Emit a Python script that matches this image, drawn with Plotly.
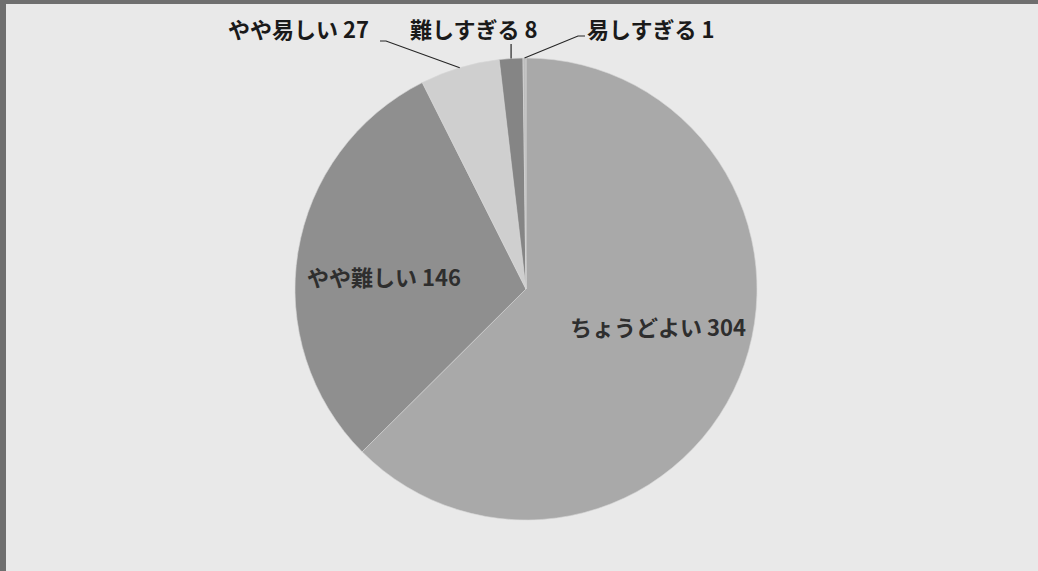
import math
import plotly.graph_objects as go

# Survey answers on difficulty, in clockwise order from 12 o'clock
categories = ["ちょうどよい", "やや難しい", "やや易しい", "難しすぎる", "易しすぎる"]
counts = [304, 146, 27, 8, 1]
slice_colors = ["#a9a9a9", "#8f8f8f", "#cfcfcf", "#858585", "#bdbdbd"]

W, H = 1038, 571
CX, CY, R = 526, 289, 231          # pie centre and radius in pixels


def px(x):
    return x / W


def py(y):
    return 1 - y / H


fig = go.Figure(
    go.Pie(
        labels=categories,
        values=counts,
        sort=False,
        direction="clockwise",
        rotation=0,
        marker=dict(colors=slice_colors, line=dict(color="#d6d6d6", width=0.6)),
        textinfo="none",
        hoverinfo="label+value",
        showlegend=False,
        domain=dict(x=[px(CX - R), px(CX + R)], y=[py(CY + R), py(CY - R)]),
    )
)

# Rim point at the middle of each slice, derived from the counts
total = sum(counts)
mid_pts = []
acc = 0
for v in counts:
    a = (acc + v / 2) / total * 2 * math.pi
    mid_pts.append((CX + R * math.sin(a), CY - R * math.cos(a)))
    acc += v

label_font = dict(family="Noto Sans CJK JP, Noto Sans, sans-serif", size=22, color="#1a1a1a")
inner_font = dict(family="Noto Sans CJK JP, Noto Sans, sans-serif", size=22, color="#2e2e2e")


def label(i):
    return f"<b>{categories[i]} {counts[i]}</b>"


annotations = [
    # labels drawn inside the two large slices
    dict(x=px(658), y=py(326), text=label(0), font=inner_font, xanchor="center", yanchor="middle"),
    dict(x=px(384), y=py(276), text=label(1), font=inner_font, xanchor="center", yanchor="middle"),
    # labels above the pie for the small slices
    dict(x=px(226), y=py(28), text=label(2), font=label_font, xanchor="left", yanchor="middle"),
    dict(x=px(408), y=py(28), text=label(3), font=label_font, xanchor="left", yanchor="middle"),
    dict(x=px(585), y=py(28), text=label(4), font=label_font, xanchor="left", yanchor="middle"),
]
for a in annotations:
    a.update(xref="paper", yref="paper", showarrow=False)


def leader(points):
    d = "M " + " L ".join(f"{px(x):.5f} {py(y):.5f}" for x, y in points)
    return dict(type="path", xref="paper", yref="paper", path=d,
                line=dict(color="#262626", width=1.2))


shapes = [
    leader([(380, 41), (386, 41), mid_pts[2]]),
    leader([(mid_pts[3][0], 44), mid_pts[3]]),
    leader([mid_pts[4], (578, 36), (585, 36)]),
    # dark frame edges along the top and left
    dict(type="rect", xref="paper", yref="paper", x0=0, x1=px(6), y0=0, y1=1,
         line=dict(width=0), fillcolor="#6f6f6f", layer="above"),
    dict(type="rect", xref="paper", yref="paper", x0=0, x1=1, y0=py(4), y1=1,
         line=dict(width=0), fillcolor="#6f6f6f", layer="above"),
]

fig.update_layout(
    width=W,
    height=H,
    margin=dict(l=0, r=0, t=0, b=0),
    paper_bgcolor="#e9e9e9",
    plot_bgcolor="#e9e9e9",
    annotations=annotations,
    shapes=shapes,
)

fig.write_html("out.html")
